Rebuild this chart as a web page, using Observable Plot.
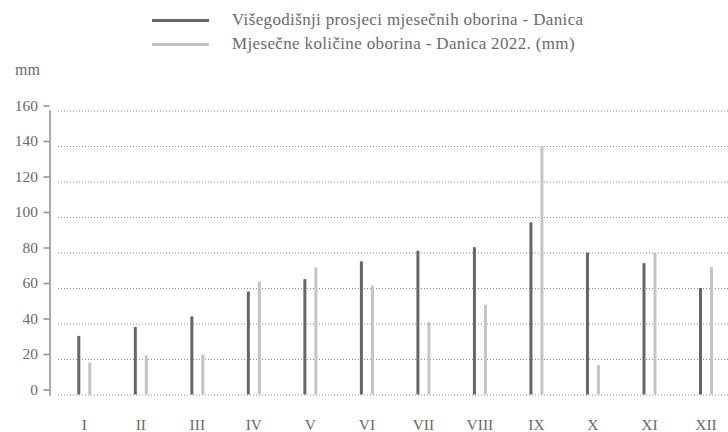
<!DOCTYPE html>
<html>
<head>
<meta charset="utf-8">
<script src="https://cdn.jsdelivr.net/npm/d3@7"></script>
<script src="https://cdn.jsdelivr.net/npm/@observablehq/plot@0.6"></script>
<style>
  html, body { margin: 0; padding: 0; background: #fff; }
  body { width: 728px; height: 432px; overflow: hidden; position: relative; font-family: "Liberation Serif", serif; color: #6a6a6a; }
  #head { position: relative; height: 90px; }
  .lg { position: absolute; left: 152px; height: 20px; display: flex; align-items: center; font-size: 17px; letter-spacing: 0.35px; white-space: nowrap; }
  .lg .sw { width: 57px; height: 3px; margin-right: 23px; }
  #mm { position: absolute; left: 15px; top: 61px; font-size: 16px; }
  #chart svg { display: block; }
</style>
</head>
<body>
<div id="head">
  <div class="lg" style="top:10px"><span class="sw" style="background:#666"></span><span id="l1"></span></div>
  <div class="lg" style="top:34px"><span class="sw" style="background:#c4c4c4"></span><span id="l2"></span></div>
  <div id="mm"></div>
</div>
<div id="chart"></div>
<script>
const months = ["I", "II", "III", "IV", "V", "VI", "VII", "VIII", "IX", "X", "XI", "XII"];
const averageMm = [33, 38, 44, 58, 65, 75, 81, 83, 97, 80, 74, 60];
const rain2022Mm = [18, 22, 22.4, 63.7, 71.6, 61.3, 40.8, 50.6, 140, 16.6, 80, 71.8];
const yTicks = [0, 20, 40, 60, 80, 100, 120, 140, 160];
const seriesNames = ["Višegodišnji prosjeci mjesečnih oborina - Danica", "Mjesečne količine oborina - Danica 2022. (mm)"];
const unitLabel = "mm";

document.getElementById("l1").textContent = seriesNames[0];
document.getElementById("l2").textContent = seriesNames[1];
document.getElementById("mm").textContent = unitLabel;

const avgData = months.map((m, i) => ({month: m, value: averageMm[i]}));
const curData = months.map((m, i) => ({month: m, value: rain2022Mm[i]}));

const chart = Plot.plot({
  width: 728,
  height: 342,
  marginTop: 20.5,
  marginBottom: 37.5,
  marginLeft: 58,
  marginRight: 0,
  style: {fontFamily: "Liberation Serif, serif", color: "#6a6a6a", background: "#fff"},
  x: {type: "point", domain: months, range: [83.8, 705.5], padding: 0, round: false},
  y: {domain: [0, 160], ticks: yTicks},
  marks: [
    Plot.gridY(yTicks, {stroke: "#8a8a8a", strokeOpacity: 1, strokeDasharray: "1,2", strokeWidth: 1}),
    Plot.frame({anchor: "left", dx: -8.5, stroke: "#8f8f8f", strokeWidth: 1.5}),
    Plot.axisY(yTicks, {tickSize: 6, dx: -8.5, tickPadding: 6, fontSize: 15.5, label: null, stroke: "#8f8f8f", strokeWidth: 1.5, fill: "#6a6a6a", dy: -5}),
    Plot.axisX(months, {tickSize: 0, tickPadding: 24, fontSize: 15.5, label: null, fill: "#6a6a6a"}),
    Plot.ruleX(avgData, {x: "month", y1: 0, y2: "value", dx: -5.5, stroke: "#666", strokeWidth: 3}),
    Plot.ruleX(curData, {x: "month", y1: 0, y2: "value", dx: 5.5, stroke: "#c4c4c4", strokeWidth: 3})
  ]
});
document.getElementById("chart").appendChild(chart);
</script>
</body>
</html>
